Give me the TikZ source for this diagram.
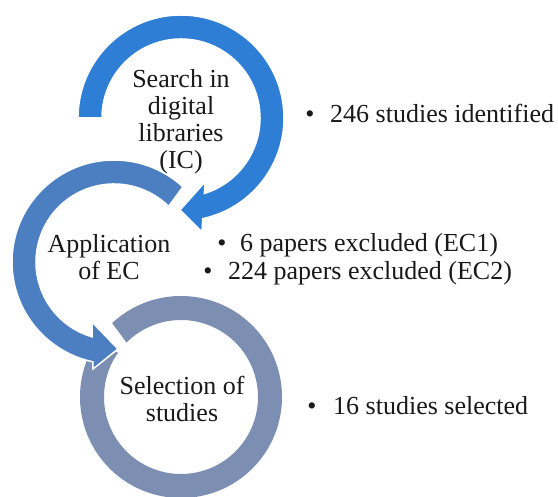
\documentclass[tikz,border=0pt]{standalone}
\usepackage{fontspec}
\setmainfont{Liberation Serif}
\definecolor{cA}{RGB}{46,126,214}
\definecolor{cB}{RGB}{76,127,194}
\definecolor{cC}{RGB}{124,142,178}
\begin{document}
\begin{tikzpicture}[x=1pt,y=1pt,
  txt/.style={font=\fontsize{26}{27}\selectfont, inner sep=0pt, text=black!90},
  lab/.style={txt, align=center},
  bul/.style={txt, anchor=base},
  item/.style={txt, anchor=base west},
  arrowshape/.style={draw=white, line width=1.5pt, line join=miter}]
\useasboundingbox (0,0) rectangle (558,497);
\fill[white] (0,0) rectangle (558,497);
\coordinate (C1) at (181,379);
\coordinate (C2) at (114,235);
\coordinate (C3) at (181,100);
% third ring
\fill[cC] ([shift={(C3)}]133:101) arc[start angle=133, end angle=-215, radius=101]
  -- ([shift={(C3)}]-215:77) arc[start angle=-215, end angle=135, radius=77] -- cycle;
% second arrow
\filldraw[cB, arrowshape] ([shift={(C2)}]47.5:102) arc[start angle=47.5, end angle=258, radius=102]
  -- (93,128) -- (118,148) -- (92,175)
  -- ([shift={(C2)}]253.8:78) arc[start angle=253.8, end angle=45.5, radius=78] -- cycle;
% first arrow
\filldraw[cA, arrowshape] ([shift={(C1)}]180:103) arc[start angle=180, end angle=-77.8, radius=103]
  -- (202,265) -- (180,287) -- (205,315)
  -- ([shift={(C1)}]-72.8:79) arc[start angle=-72.8, end angle=180, radius=79] -- cycle;
% labels
\node[lab] (s1) at (181,375.6) {Search in\\digital\\libraries\\(IC)};
\node[lab] (s2) at (109,239.4) {Application\\of EC};
\node[lab] (s3) at (182,98.4) {Selection of\\studies};
% bullet items
\node[bul] (b1) at (310,374) {\textbullet};
\node[item] (t1) at (330,374) {246 studies identified};
\node[bul] (b2) at (222,245) {\textbullet};
\node[item] (t2) at (240,245) {6 papers excluded (EC1)};
\node[bul] (b3) at (208,217) {\textbullet};
\node[item] (t3) at (228,217) {224 papers excluded (EC2)};
\node[bul] (b4) at (312,82) {\textbullet};
\node[item] (t4) at (333,82) {16 studies selected};
\end{tikzpicture}
\end{document}
